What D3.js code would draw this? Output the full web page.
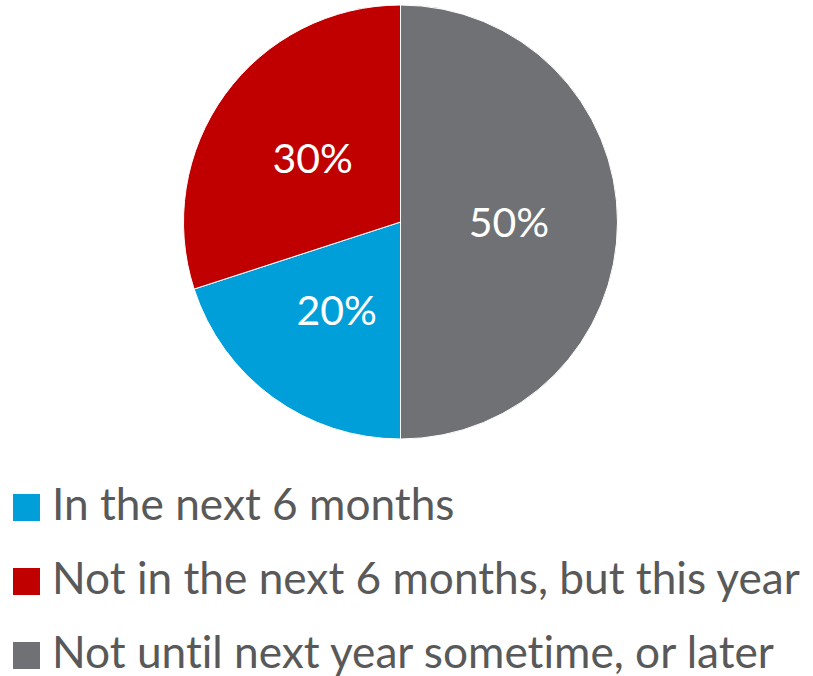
<!DOCTYPE html>
<html>
<head>
<meta charset="utf-8">
<script src="https://cdn.jsdelivr.net/npm/d3@7"></script>
<style>
  html, body { margin: 0; padding: 0; background: #fff; }
  svg { display: block; }
  text { font-family: Lato, "Open Sans", sans-serif; font-variant-ligatures: none; font-feature-settings: "liga" 0, "clig" 0; }
</style>
</head>
<body>
<svg id="chart" width="813" height="676"></svg>
<script>
// Survey answers and their shares (percent)
const categories = [
  "In the next 6 months",
  "Not in the next 6 months, but this year",
  "Not until next year sometime, or later"
];
const shares = [20, 30, 50];
const colors = ["#009FDA", "#C00000", "#707175"];

const svg = d3.select("#chart");
const cx = 400.5, cy = 222, R = 217;

// Largest slice starts at 12 o'clock going clockwise; the others follow.
const order = [2, 0, 1];
const pie = d3.pie()
  .sort(null)
  .value(i => shares[i]);
const arcs = pie(order);

const arc = d3.arc().innerRadius(0).outerRadius(R);
const labelArc = d3.arc().innerRadius(0).outerRadius(R);

const g = svg.append("g").attr("transform", `translate(${cx},${cy})`);

g.selectAll("path.slice")
  .data(arcs)
  .join("path")
  .attr("class", "slice")
  .attr("d", arc)
  .attr("fill", d => colors[d.data])
  .attr("stroke", "#ffffff")
  .attr("stroke-width", 1);

g.selectAll("text.pct")
  .data(arcs)
  .join("text")
  .attr("class", "pct")
  .attr("transform", d => {
    const [x, y] = labelArc.centroid(d);
    return `translate(${x},${y})`;
  })
  .attr("text-anchor", "middle")
  .attr("dy", "0.36em")
  .attr("fill", "#ffffff")
  .style("font-size", "41px")
  .text(d => shares[d.data] + "%");

// Legend
const legend = svg.append("g");
const rowY = d3.scaleBand().domain(d3.range(categories.length)).range([482, 704]).paddingInner(0);
const rows = legend.selectAll("g.row")
  .data(categories)
  .join("g")
  .attr("class", "row")
  .attr("transform", (d, i) => `translate(0,${rowY(i)})`);

rows.append("rect")
  .attr("x", 13)
  .attr("y", 12)
  .attr("width", 27)
  .attr("height", 27)
  .attr("fill", (d, i) => colors[i]);

const labels = rows.append("text")
  .attr("x", 52)
  .attr("y", 38)
  .attr("fill", "#595959")
  .style("font-size", "42px")
  .text(d => d);

// Fit the longest legend entry to its available width
const widest = labels.filter((d, i) => i === 1).node();
const w = widest.getComputedTextLength();
const size = 42 * 748 / w;
labels.style("font-size", size.toFixed(2) + "px");
</script>
</body>
</html>
